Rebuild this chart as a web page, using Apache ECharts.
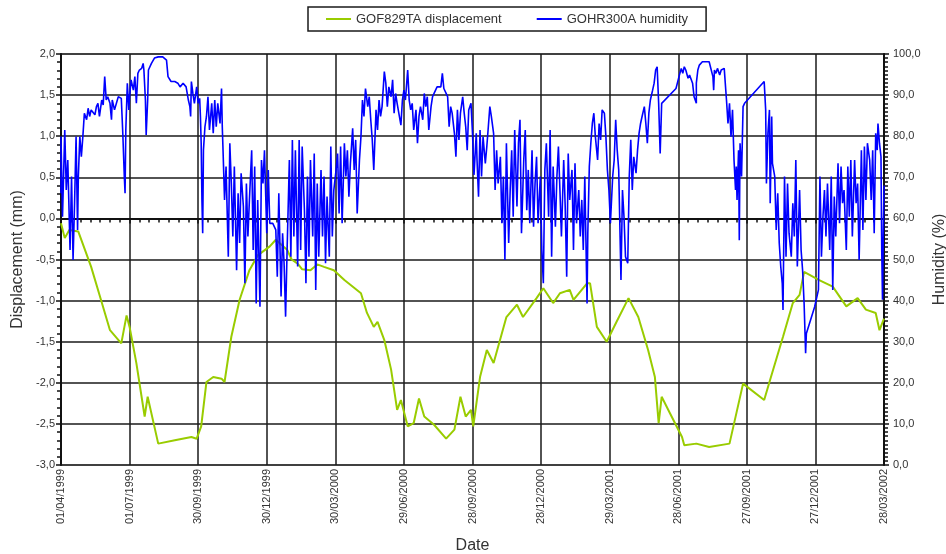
<!DOCTYPE html>
<html>
<head>
<meta charset="utf-8">
<script src="https://cdn.jsdelivr.net/npm/echarts@6/dist/echarts.min.js"></script>
<style>
  html, body { margin: 0; padding: 0; background: #fff; }
  #chart { width: 946px; height: 554px; }
</style>
</head>
<body>
<div id="chart"></div>
<script>
// x values are days counted from 01/04/1999
var dateLabels = ['01/04/1999', '01/07/1999', '30/09/1999', '30/12/1999', '30/03/2000', '29/06/2000',
  '28/09/2000', '28/12/2000', '29/03/2001', '28/06/2001', '27/09/2001', '27/12/2001', '28/03/2002'];

var displacement = [
  [0,-0.06],[5,-0.24],[11,-0.14],[23,-0.16],[40,-0.59],[53,-0.99],[65,-1.36],[80,-1.52],[87,-1.18],[91,-1.32],
  [100,-1.76],[111,-2.41],[115,-2.17],[129,-2.74],[151,-2.70],[173,-2.66],[180,-2.68],[186,-2.53],[193,-1.99],
  [202,-1.93],[213,-1.95],[217,-1.99],[226,-1.44],[237,-0.99],[250,-0.63],[261,-0.45],[277,-0.34],[285,-0.26],
  [300,-0.38],[306,-0.50],[314,-0.55],[320,-0.62],[331,-0.63],[340,-0.56],[349,-0.59],[362,-0.63],[376,-0.75],
  [398,-0.91],[406,-1.15],[415,-1.32],[420,-1.26],[429,-1.48],[438,-1.84],[446,-2.33],[451,-2.21],[460,-2.53],
  [468,-2.49],[475,-2.19],[482,-2.41],[495,-2.51],[511,-2.68],[522,-2.57],[530,-2.17],[537,-2.41],[544,-2.33],
  [547,-2.53],[556,-1.93],[565,-1.60],[574,-1.76],[591,-1.20],[605,-1.05],[613,-1.20],[631,-0.97],[640,-0.85],
  [653,-1.03],[662,-0.91],[675,-0.87],[680,-0.99],[698,-0.79],[702,-0.79],[711,-1.32],[724,-1.50],[737,-1.26],
  [753,-0.97],[766,-1.20],[779,-1.60],[788,-1.93],[793,-2.49],[797,-2.17],[808,-2.37],[824,-2.66],[827,-2.76],
  [843,-2.74],[860,-2.78],[887,-2.74],[905,-2.01],[933,-2.21],[942,-1.93],[958,-1.44],[971,-1.03],[980,-0.93],
  [986,-0.65],[1006,-0.75],[1024,-0.83],[1042,-1.07],[1057,-0.97],[1068,-1.11],[1081,-1.15],[1086,-1.36],[1092,-1.22]
];

var humidity = [
  [0,66.1],[0,79.9],[2,60.4],[5,81.5],[7,66.9],[9,74.2],[12,52.3],[14,70.2],[16,49.9],[18,63.7],[20,79.9],[22,57.2],
  [23,70.2],[25,79.9],[27,75.0],[29,79.9],[31,85.6],[34,84.0],[36,86.8],[38,84.8],[40,86.4],[45,85.2],[47,87.2],
  [49,88.0],[51,84.8],[54,88.8],[56,87.6],[58,94.5],[60,88.8],[62,89.6],[65,88.0],[67,84.0],[68,88.8],[71,86.4],
  [76,89.6],[80,89.2],[82,80.7],[84,70.2],[85,66.1],[86,81.5],[88,92.9],[90,86.4],[91,89.6],[93,93.7],[96,91.2],
  [98,94.5],[100,88.0],[102,95.3],[104,96.1],[107,96.5],[109,97.7],[110,96.1],[112,88.8],[113,80.3],[115,88.8],
  [116,96.1],[120,97.7],[124,99.0],[129,99.3],[135,99.3],[140,98.5],[142,94.5],[146,93.3],[151,93.3],[155,92.9],
  [158,92.0],[162,92.9],[166,92.0],[169,88.8],[171,87.2],[172,84.8],[173,93.3],[175,90.4],[177,88.0],[180,92.0],
  [182,88.0],[184,89.2],[185,84.8],[186,78.3],[187,64.5],[188,56.4],[189,76.6],[191,82.3],[193,84.8],[195,89.6],
  [197,81.5],[200,88.0],[202,80.7],[204,88.8],[206,82.3],[208,88.0],[211,83.1],[213,91.6],[214,82.3],[215,76.6],
  [217,64.5],[219,72.6],[222,50.7],[224,78.3],[226,68.5],[228,55.6],[230,72.6],[233,47.4],[235,66.1],[237,54.0],
  [239,71.0],[242,62.9],[244,44.2],[246,68.5],[248,55.6],[250,64.5],[253,76.6],[255,52.3],[257,72.6],[259,39.3],
  [261,64.5],[264,38.5],[266,74.2],[268,68.5],[270,76.6],[273,56.4],[275,71.8],[277,58.8],
  [281,58.8],[285,57.2],[287,45.8],[289,66.1],[292,41.0],[294,56.4],[296,49.1],[298,36.1],[300,52.3],[303,74.2],
  [305,50.7],[307,79.1],[309,55.6],[311,76.6],[314,48.3],[316,79.1],[318,52.3],[320,77.5],[323,62.0],[325,44.2],
  [327,70.2],[329,50.7],[331,74.2],[334,55.6],[336,75.8],[338,42.6],[340,68.5],[342,50.7],[345,71.8],[347,55.6],
  [349,70.2],[351,49.1],[353,65.3],[356,50.7],[358,77.5],[360,55.6],[362,66.9],[365,71.8],[367,75.8],[369,61.2],
  [371,77.5],[373,58.8],[376,78.3],[378,70.2],[380,76.6],[382,65.3],[384,73.4],[387,81.9],[389,71.8],[391,79.1],
  [393,61.2],[396,74.2],[398,79.9],[400,88.8],[402,84.8],[404,91.6],[407,87.2],[409,89.6],[411,84.0],[413,79.1],
  [415,71.8],[418,86.4],[420,81.5],[422,88.8],[424,84.8],[426,87.2],[429,95.7],[431,92.9],[433,87.2],[435,92.0],
  [438,89.6],[440,93.7],[442,85.6],[444,90.4],[446,88.0],[449,84.8],[451,82.7],[453,88.8],[455,91.2],[457,88.8],
  [460,96.1],[462,88.8],[464,86.4],[466,88.0],[468,81.5],[471,86.4],[473,78.3],[475,84.8],[477,87.2],[480,84.0],
  [482,90.4],[484,87.2],[486,89.6],[488,81.5],[491,87.2],[493,89.6],[495,90.4],[497,91.2],[499,92.0],[504,92.0],
  [506,95.3],[508,91.6],[511,90.4],[513,89.6],[515,82.3],[517,87.2],[519,85.6],[522,80.7],[524,75.0],[526,86.4],
  [528,79.1],[530,85.6],[533,89.6],[535,85.6],[537,82.3],[539,76.6],[541,86.4],[544,88.0],[546,80.7],[548,70.6],
  [551,80.7],
  [552,74.2],[554,65.3],[556,81.5],[558,70.2],[560,79.9],[563,73.4],[565,77.5],[567,82.3],[569,87.2],[571,84.8],
  [574,80.7],[576,66.9],[578,76.6],[580,68.5],[583,75.0],[585,58.8],[587,70.2],[589,49.9],[591,78.3],[594,54.0],
  [596,66.9],[598,76.6],[600,60.4],[602,81.5],[605,62.9],[607,78.3],[609,84.0],[611,56.4],[614,74.2],[616,81.5],
  [618,62.0],[620,71.8],[622,58.8],[625,76.6],[627,58.0],[629,68.5],[631,75.0],[633,58.8],[636,70.2],[638,52.3],
  [640,44.2],[642,71.8],[644,78.3],[647,60.4],[649,81.5],[651,50.7],[653,72.6],[656,58.0],[658,70.2],[660,77.5],
  [662,66.9],[664,55.6],[667,74.2],[669,62.9],[671,45.8],[673,75.8],[675,64.5],[678,71.8],[680,52.3],[682,73.4],
  [684,58.8],[687,66.9],[689,55.6],[691,64.5],[693,52.3],[695,70.2],[698,39.3],[699,56.4],[701,72.6],[703,78.3],
  [705,83.1],[707,85.6],[709,79.9],[712,74.2],[714,83.1],[716,79.1],[718,86.4],[721,85.6],[723,79.9],[725,71.8],
  [727,66.9],[729,58.8],[732,70.2],[734,74.2],[736,84.0],[738,76.6],[740,71.8],[743,45.0],[745,66.9],[747,60.4],
  [749,50.7],[752,49.1],[754,70.2],[756,79.1],[758,66.9],[760,75.0],[763,71.0],[765,76.6],[767,80.7],[769,83.1],
  [771,84.8],[774,87.2],[776,83.1],[778,78.3],[780,85.6],[782,88.8],[785,91.2],[787,92.9],[789,96.1],[791,96.9],
  [793,88.0],[795,75.8],[797,88.0],[799,87.6],
  [816,91.6],[818,92.0],[820,94.5],[823,96.5],[825,95.3],[827,96.9],[829,96.1],[832,94.1],[834,94.9],[836,95.3],
  [838,92.9],[840,89.6],[843,88.0],[843,92.9],[845,96.1],[847,97.3],[851,98.1],[856,98.1],[860,98.1],[862,97.7],
  [865,94.5],[866,91.2],[867,96.1],[869,95.3],[871,96.5],[874,94.9],[876,96.1],[878,95.7],[880,96.5],[882,96.1],
  [883,88.8],[885,83.1],[887,88.0],[889,79.9],[891,86.4],[893,74.2],[895,66.9],[896,72.6],[897,64.5],[899,76.6],
  [900,54.7],[901,78.3],[903,70.2],[905,87.2],[907,88.0],[933,93.3],[935,86.4],[936,68.5],[938,80.7],[940,86.4],
  [941,63.7],[943,84.8],[944,73.4],[947,70.2],[949,57.2],[951,66.1],[953,54.0],[955,48.3],[957,44.2],[958,37.7],
  [960,70.2],[962,50.7],[964,68.5],[966,56.4],[969,50.7],[971,63.7],[973,55.6],[975,74.2],[977,48.3],[980,66.9],
  [982,52.3],[984,47.4],[986,39.3],[988,27.2],[989,32.0],[1000,38.5],[1005,42.6],[1007,70.2],[1009,50.7],[1011,60.4],
  [1013,66.9],[1015,55.6],[1017,68.5],[1020,52.3],[1022,70.2],[1024,42.6],[1026,65.3],[1028,55.6],[1031,73.4],
  [1033,58.8],[1035,72.6],[1037,63.7],[1039,66.9],[1042,52.3],[1044,72.6],[1046,60.4],[1048,74.2],[1050,55.6],
  [1053,74.2],[1055,63.7],[1057,68.5],[1059,49.9],[1062,76.6],[1064,57.2],[1066,77.5],[1068,64.5],[1070,78.3],
  [1073,74.2],[1075,64.5],[1077,76.6],[1079,56.4],[1081,80.7],[1083,76.6],[1084,83.1],[1086,78.3],[1088,75.0],
  [1089,52.3],[1090,40.2],[1091,55.0],[1092,68.0]
];

var font = 'Liberation Sans, Arial, sans-serif';

function comma(v) {
  return v.toFixed(1).replace('.', ',');
}

var chart = echarts.init(document.getElementById('chart'));

var option = {
  animation: false,
  backgroundColor: '#fff',
  textStyle: { fontFamily: font },
  legend: {
    left: 308,
    top: 7,
    padding: [5, 18],
    itemGap: 35,
    itemWidth: 25,
    itemHeight: 2,
    icon: 'rect',
    borderColor: '#1a1a1a',
    borderWidth: 1.5,
    textStyle: { fontSize: 13, color: '#333', fontFamily: font, lineHeight: 14 },
    data: ['GOF829TA displacement', 'GOHR300A humidity']
  },
  grid: {
    left: 61, right: 62, top: 54, bottom: 89,
    outerBoundsMode: 'none',
    show: true, borderColor: '#b5b5b5', borderWidth: 2
  },
  xAxis: {
    type: 'value',
    min: 0, max: 1092, interval: 91,
    name: 'Date', nameLocation: 'middle', nameGap: 73,
    nameTextStyle: { fontSize: 16, color: '#333', fontFamily: font },
    axisLine: { lineStyle: { color: '#111', width: 2 } },
    axisTick: { length: 5, lineStyle: { color: '#111', width: 1.5 } },
    minorTick: { show: true, splitNumber: 7, length: 4, lineStyle: { color: '#111', width: 1.5 } },
    splitLine: { show: true, lineStyle: { color: '#1a1a1a', width: 1.5 } },
    axisLabel: {
      rotate: 90, fontSize: 11, color: '#333', margin: 4,
      formatter: function (v) { return dateLabels[Math.round(v / 91)]; }
    }
  },
  yAxis: [{
    type: 'value',
    min: -3, max: 2, interval: 0.5,
    name: 'Displacement (mm)', nameLocation: 'middle', nameGap: 35,
    nameTextStyle: { fontSize: 16, color: '#333', fontFamily: font },
    axisLine: { show: true, lineStyle: { color: '#111', width: 2 } },
    axisTick: { show: true, length: 5, lineStyle: { color: '#111', width: 1.5 } },
    minorTick: { show: true, splitNumber: 5, length: 4, lineStyle: { color: '#111', width: 1.5 } },
    splitLine: { show: true, lineStyle: { color: '#1a1a1a', width: 1.5 } },
    axisLabel: { fontSize: 11, color: '#333', margin: 6, formatter: comma }
  }, {
    type: 'value',
    min: 0, max: 100, interval: 10,
    name: 'Humidity (%)', nameLocation: 'middle', nameGap: 42,
    nameTextStyle: { fontSize: 16, color: '#333', fontFamily: font },
    axisLine: { show: true, lineStyle: { color: '#111', width: 2 } },
    axisTick: { show: true, length: 5, lineStyle: { color: '#111', width: 1.5 } },
    minorTick: { show: true, splitNumber: 10, length: 4, lineStyle: { color: '#111', width: 1.5 } },
    splitLine: { show: false },
    axisLabel: { fontSize: 11, color: '#333', margin: 9, formatter: comma }
  }],
  series: [{
    name: 'GOF829TA displacement',
    type: 'line',
    yAxisIndex: 0,
    symbol: 'none',
    color: '#99cc00',
    lineStyle: { width: 2, color: '#99cc00' },
    data: displacement
  }, {
    name: 'GOHR300A humidity',
    type: 'line',
    yAxisIndex: 1,
    symbol: 'none',
    color: '#0000ff',
    lineStyle: { width: 1.6, color: '#0000ff' },
    data: humidity
  }]
};

chart.setOption(option);
</script>
</body>
</html>
